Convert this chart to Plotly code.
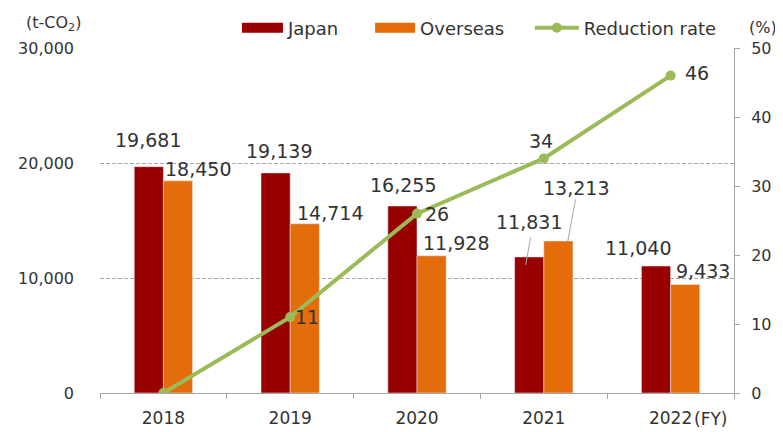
import plotly.graph_objects as go

years = ["2018", "2019", "2020", "2021", "2022"]
japan = [19681, 19139, 16255, 11831, 11040]
overseas = [18450, 14714, 11928, 13213, 9433]
reduction = [0, 11, 26, 34, 46]

xs = list(range(len(years)))

C_JP = "#990000"
C_OS = "#E46C0A"
C_LN = "#9BBB59"
TXT = "#333333"
GRID = "#A6A6A6"
FONT = "DejaVu Sans"

fig = go.Figure()
fig.add_trace(go.Bar(x=xs, y=japan, name="Japan", marker_color=C_JP, showlegend=False))
fig.add_trace(go.Bar(x=xs, y=overseas, name="Overseas", marker_color=C_OS, showlegend=False))
fig.add_trace(go.Scatter(x=xs, y=reduction, name="Reduction rate", yaxis="y2",
                         mode="lines+markers", line=dict(color=C_LN, width=4),
                         marker=dict(color=C_LN, size=10), legend="legend3"))
# legend-only entries drawn as wide rectangles for the bars
fig.add_trace(go.Scatter(x=[None], y=[None], name="Japan", mode="lines",
                         line=dict(color=C_JP, width=13), legend="legend"))
fig.add_trace(go.Scatter(x=[None], y=[None], name="Overseas", mode="lines",
                         line=dict(color=C_OS, width=13), legend="legend2"))

ann = []
# pixel offsets (right, up) of value labels relative to category centre / value
jp_off = [(-15.5, 26.5), (-11, 22), (-14, 21), (-15, 35), (-33, 18)]
os_off = [(34.5, 12), (39.5, 11), (39, 13), (32, 53), (32.5, 14)]
LBL = 19
for i in xs:
    dx, dy = jp_off[i]
    ann.append(dict(x=i, y=japan[i], xref="x", yref="y", text=f"{japan[i]:,}",
                    showarrow=False, xshift=dx, yshift=dy, font=dict(size=LBL, color=TXT)))
    dx, dy = os_off[i]
    ann.append(dict(x=i, y=overseas[i], xref="x", yref="y", text=f"{overseas[i]:,}",
                    showarrow=False, xshift=dx, yshift=dy, font=dict(size=LBL, color=TXT)))

# leader lines for 2021
ann.append(dict(x=3, y=japan[3], xref="x", yref="y", ax=5, ay=-29, showarrow=True,
                arrowhead=0, arrowwidth=1, arrowcolor=GRID, text="",
                xshift=-18, yshift=-8))
ann.append(dict(x=3, y=overseas[3], xref="x", yref="y", ax=8, ay=-43, showarrow=True,
                arrowhead=0, arrowwidth=1, arrowcolor=GRID, text="",
                xshift=24, yshift=0))

ln_off = [None, (16.5, 0), (19.5, 0), (-2.5, 17), (26, 3)]
for i in xs:
    if ln_off[i] is None:
        continue
    dx, dy = ln_off[i]
    ann.append(dict(x=i, y=reduction[i], xref="x", yref="y2", text=str(reduction[i]),
                    showarrow=False, xshift=dx, yshift=dy, font=dict(size=LBL, color=TXT)))

ann.append(dict(x=0, y=1.0, xref="paper", yref="paper", text="(t-CO<sub>2</sub>)",
                showarrow=False, xanchor="right", yanchor="bottom", xshift=-17, yshift=12,
                font=dict(size=16, color=TXT)))
ann.append(dict(x=1.0, y=1.0, xref="paper", yref="paper", text="(%)",
                showarrow=False, xanchor="left", yanchor="middle", xshift=13, yshift=21,
                font=dict(size=16, color=TXT)))
ann.append(dict(x=xs[-1], y=0, xref="x", yref="paper", text="(FY)",
                showarrow=False, xanchor="left", yanchor="middle", xshift=21, yshift=-26,
                font=dict(size=17, color=TXT)))

def leg(x, w):
    return dict(orientation="h", x=x, y=1.058, xanchor="left", yanchor="middle",
                font=dict(size=18, color=TXT), itemwidth=w, bgcolor="rgba(0,0,0,0)",
                borderwidth=0)

fig.update_layout(
    width=775, height=424,
    margin=dict(l=92, r=49, t=40, b=39, autoexpand=False),
    paper_bgcolor="white", plot_bgcolor="white",
    font=dict(family=FONT, size=16, color=TXT),
    barmode="group", bargap=0.54, bargroupgap=0,
    showlegend=True,
    legend=leg(0.216, 41),
    legend2=leg(0.426, 40),
    legend3=leg(0.678, 44),
    xaxis=dict(range=[-0.5, len(years) - 0.5], tickmode="array", tickvals=xs,
               ticktext=years, showline=True, linecolor=GRID, linewidth=1,
               ticks="", showgrid=False, zeroline=False, ticklabelstandoff=10,
               automargin=False, tickfont=dict(size=17, color=TXT),
               minor=dict(tickmode="array", tickvals=[i - 0.5 for i in xs] + [xs[-1] + 0.5],
                          ticks="outside", ticklen=5, tickcolor=GRID, showgrid=False)),
    yaxis=dict(range=[0, 30000], tickmode="array", tickvals=[0, 10000, 20000, 30000],
               tickformat=",", showline=False, automargin=False,
               showgrid=True, gridcolor=GRID, griddash="4px,2px", gridwidth=1,
               zeroline=False, ticks="", ticklabelstandoff=25,
               tickfont=dict(size=16, color=TXT)),
    yaxis2=dict(range=[0, 50], tickmode="array", tickvals=[0, 10, 20, 30, 40, 50],
                overlaying="y", side="right", showgrid=False, automargin=False,
                showline=True, linecolor=GRID, linewidth=1, ticks="outside",
                ticklen=5, tickcolor=GRID, zeroline=False, ticklabelstandoff=8,
                tickfont=dict(size=16, color=TXT)),
    annotations=ann,
)

fig.write_html("out.html")
